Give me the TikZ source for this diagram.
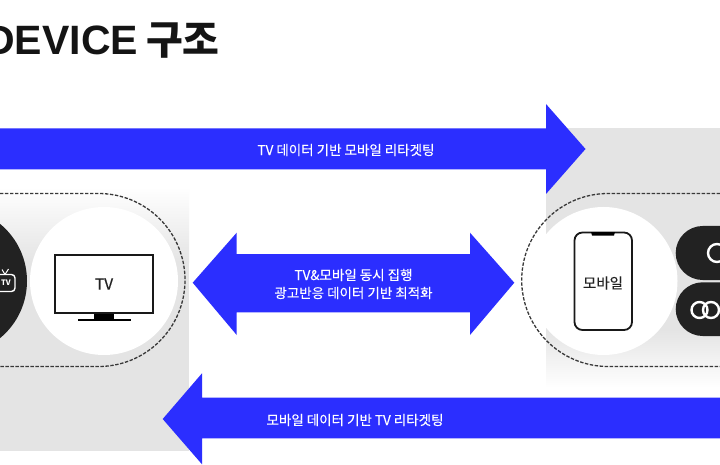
\documentclass[tikz,border=0pt]{standalone}
\usepackage{fontspec}
\setmainfont{Noto Sans CJK KR}
\newfontfamily\latinbold{Liberation Sans}[Scale=1]
\definecolor{brandblue}{HTML}{2B2EFF}
\definecolor{panelgray}{HTML}{E4E4E4}
\definecolor{inkblack}{HTML}{222222}
\tikzset{
  bluearrow/.style={fill=brandblue,draw=none},
  panel/.style={fill=panelgray,draw=none},
  dashring/.style={draw=inkblack!90,line width=1.3pt,dash pattern=on 3.4pt off 1.6pt},
  whitedisc/.style={fill=white,draw=none},
  blackfill/.style={fill=inkblack,draw=none},
  arrowtext/.style={text=white,font=\fontsize{13.5}{18}\selectfont\addfontfeature{FakeBold=0.1},align=center,inner sep=0pt},
  devicetext/.style={text=inkblack,font=\fontsize{14.5}{18}\selectfont,inner sep=0pt},
  outline/.style={draw=black!90,line width=1.8pt},
  ringicon/.style={draw=white,line width=2.4pt,fill=none}
}
\begin{document}
\begin{tikzpicture}[x=1pt,y=-1pt]
\clip (0,0) rectangle (720,465);
\fill[white] (0,0) rectangle (720,465);
% title
\node[anchor=base east,inner sep=0pt,text=black!92,font=\fontsize{40}{44}\selectfont\bfseries] (title) at (220,55) {{\latinbold\fontsize{41}{44}\selectfont DEVICE}\hspace{-1pt} 구조};
% panels
\shade[top color=white,bottom color=panelgray] (0,187) rectangle (189,262);
\fill[panel] (0,261.5) rectangle (189,450.5);
\fill[panel] (546,128) rectangle (720,330);
\shade[top color=panelgray,bottom color=white] (546,329.5) rectangle (720,388);
% dashed groups
\draw[dashring] (-20,193.5) -- (98.5,193.5) arc[start angle=-90,end angle=90,radius=86.5] -- (-20,366.5);
\draw[dashring] (740,193.5) -- (608.2,193.5) arc[start angle=270,end angle=90,radius=86.5] -- (740,366.5);
% left discs
\fill[blackfill] (-47,281) circle[radius=74];
\fill[whitedisc] (104,281) circle[radius=74];
% tv logo
\draw[white,line width=1.4pt,rounded corners=3.5pt] (-6,274.5) rectangle (15,291.5);
\draw[white,line width=1pt] (5,274.5) -- (2,269.5) (5,274.5) -- (8.5,269);
\node[text=white,font=\fontsize{7.5}{8}\selectfont\bfseries,inner sep=0pt] (logotv) at (6,283) {TV};
% tv
\draw[outline] (54.7,254.7) rectangle (153,312.7);
\fill[black] (94,314) rectangle (113.5,319);
\fill[black] (77.5,318.5) rectangle (130.5,320.5);
\node[devicetext,font=\fontsize{15.5}{18}\selectfont] (tv) at (104,284) {\addfontfeature{FakeBold=0.5}TV};
% right disc
\fill[whitedisc] (603.5,281) circle[radius=74];
% phone
\draw[outline,rounded corners=8pt] (574.5,232.5) rectangle (632,330);
\fill[black] (591,232) -- (615,232) -- (614,235.5) -- (592,235.5) -- cycle;
\node[devicetext] (mobile) at (603,283) {\addfontfeature{FakeBold=0.3}모바일};
% pills
\fill[blackfill,rounded corners=27pt] (675.7,226) rectangle (790,280);
\fill[blackfill,rounded corners=27pt] (675.7,282.3) rectangle (790,336);
\draw[ringicon] (717,253) circle[radius=9];
\draw[ringicon] (699.5,310) circle[radius=8];
\draw[ringicon] (711,310) circle[radius=8];
% arrows
\fill[bluearrow] (-5,128.3) -- (546,128.3) -- (546,104) -- (585.5,149) -- (546,194) -- (546,169.3) -- (-5,169.3) -- cycle;
\fill[bluearrow] (192.7,282.7) -- (236.7,232.7) -- (236.7,254) -- (470,254) -- (470,232.7) -- (514.3,282.7) -- (470,335) -- (470,312.3) -- (236.7,312.3) -- (236.7,335) -- cycle;
\fill[bluearrow] (162.7,419) -- (202,373.3) -- (202,397.7) -- (725,397.7) -- (725,438.3) -- (202,438.3) -- (202,464.3) -- cycle;
\node[arrowtext] (toplabel) at (346,150) {TV 데이터 기반 모바일 리타겟팅};
\node[arrowtext] (midlabela) at (353.5,275) {TV\&모바일 동시 집행};
\node[arrowtext] (midlabelb) at (353.5,293) {광고반응 데이터 기반 최적화};
\node[arrowtext] (botlabel) at (355,420) {모바일 데이터 기반 TV 리타겟팅};
\end{tikzpicture}
\end{document}
